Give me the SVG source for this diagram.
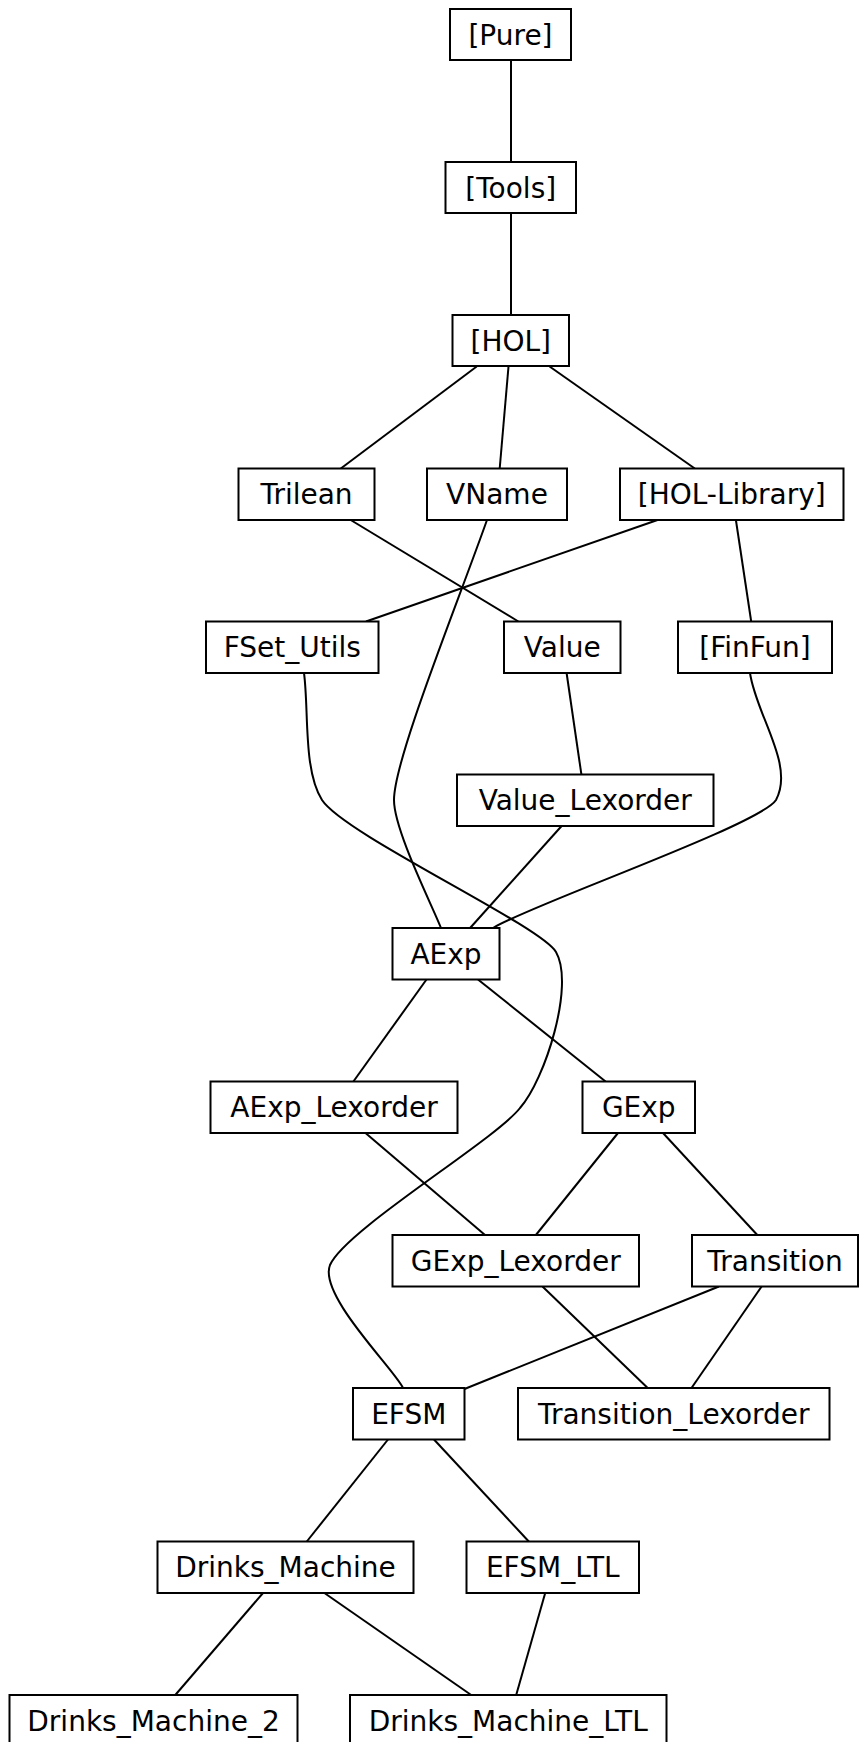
<svg xmlns="http://www.w3.org/2000/svg" width="859" height="1742" viewBox="0 0 859 1742">
<style>
.n rect{fill:#fff;stroke:#000;stroke-width:2}
.n text{font-family:"DejaVu Sans",sans-serif;font-size:28px;text-anchor:middle;fill:#000}
.e path{fill:none;stroke:#000;stroke-width:2}
</style>
<rect width="859" height="1742" fill="#fff"/>
<g class="e" id="edges">
<path d="M511,59 L511,162"/>
<path d="M511,213 L511,315"/>
<path d="M476.7,366.5 L340.8,468.5"/>
<path d="M508.5,366.5 L499.7,468.5"/>
<path d="M549.6,366.5 L694.8,468.5"/>
<path d="M350.7,520 L518.4,621.5"/>
<path d="M657.5,520 L366,621.5"/>
<path d="M735.9,520 L751.2,621.5"/>
<path d="M487,520 C455,610 394,760 394,800 C394,830 432,905 441,928"/>
<path d="M566.6,673 L581.4,774.5"/>
<path d="M561.6,826 L470.1,928"/>
<path d="M750,673 C756,715 795,765 776,800 C760,825 530,905 493,928"/>
<path d="M304,673 C309,710 303,770 322,800 C345,835 540,925 556,952 C575,985 545,1080 520,1108 C495,1140 345,1230 330,1265 C318,1295 395,1370 403,1388"/>
<path d="M426.5,979.5 L353.4,1081.5"/>
<path d="M478,979.5 L605.6,1081.5"/>
<path d="M365.5,1133 L485,1235"/>
<path d="M618,1133 L535.9,1235"/>
<path d="M663,1133 L757.3,1235"/>
<path d="M542.5,1286.5 L647.7,1388"/>
<path d="M718.9,1286.5 L464.5,1389"/>
<path d="M761.6,1286.5 L691.5,1388"/>
<path d="M388,1439.5 L306.8,1541.5"/>
<path d="M434,1439.5 L528.8,1541.5"/>
<path d="M263,1593 L175.3,1695"/>
<path d="M324.4,1593 L471.2,1695"/>
<path d="M545.2,1593 L516.2,1695"/>
</g>
<g class="n" id="pure"><rect x="450" y="9" width="121" height="51"/><text x="510.5" y="44.5">[Pure]</text></g>
<g class="n" id="tools"><rect x="445.5" y="162" width="130.5" height="51"/><text x="510.75" y="197.5">[Tools]</text></g>
<g class="n" id="hol"><rect x="452.5" y="315" width="116.5" height="51"/><text x="510.75" y="350.5">[HOL]</text></g>
<g class="n" id="trilean"><rect x="238.5" y="468.5" width="136" height="51.5"/><text x="306.5" y="504">Trilean</text></g>
<g class="n" id="vname"><rect x="427" y="468.5" width="140" height="51.5"/><text x="497" y="504">VName</text></g>
<g class="n" id="hol-library"><rect x="620" y="468.5" width="223.5" height="51.5"/><text x="731.75" y="504">[HOL-Library]</text></g>
<g class="n" id="fset_utils"><rect x="206" y="621.5" width="172.5" height="51.5"/><text x="292.25" y="657">FSet_Utils</text></g>
<g class="n" id="value"><rect x="504" y="621.5" width="116.5" height="51.5"/><text x="562.25" y="657">Value</text></g>
<g class="n" id="finfun"><rect x="678" y="621.5" width="154" height="51.5"/><text x="755" y="657">[FinFun]</text></g>
<g class="n" id="value_lexorder"><rect x="457" y="774.5" width="256.5" height="51.5"/><text x="585.25" y="810">Value_Lexorder</text></g>
<g class="n" id="aexp"><rect x="392.5" y="928" width="107" height="51.5"/><text x="446" y="963.5">AExp</text></g>
<g class="n" id="aexp_lexorder"><rect x="210.5" y="1081.5" width="247" height="51.5"/><text x="334" y="1117">AExp_Lexorder</text></g>
<g class="n" id="gexp"><rect x="582.5" y="1081.5" width="112.5" height="51.5"/><text x="638.75" y="1117">GExp</text></g>
<g class="n" id="gexp_lexorder"><rect x="392.5" y="1235" width="246.5" height="51.5"/><text x="515.75" y="1270.5">GExp_Lexorder</text></g>
<g class="n" id="transition"><rect x="692" y="1235" width="166" height="51.5"/><text x="775" y="1270.5">Transition</text></g>
<g class="n" id="efsm"><rect x="353" y="1388" width="111.5" height="51.5"/><text x="408.75" y="1423.5">EFSM</text></g>
<g class="n" id="transition_lexorder"><rect x="518" y="1388" width="311.5" height="51.5"/><text x="673.75" y="1423.5">Transition_Lexorder</text></g>
<g class="n" id="drinks_machine"><rect x="157.5" y="1541.5" width="256" height="51.5"/><text x="285.5" y="1577">Drinks_Machine</text></g>
<g class="n" id="efsm_ltl"><rect x="466.5" y="1541.5" width="172.5" height="51.5"/><text x="552.75" y="1577">EFSM_LTL</text></g>
<g class="n" id="drinks_machine_2"><rect x="9.5" y="1695" width="288" height="51.5"/><text x="153.5" y="1730.5">Drinks_Machine_2</text></g>
<g class="n" id="drinks_machine_ltl"><rect x="350" y="1695" width="316.5" height="51.5"/><text x="508.25" y="1730.5">Drinks_Machine_LTL</text></g>
</svg>
